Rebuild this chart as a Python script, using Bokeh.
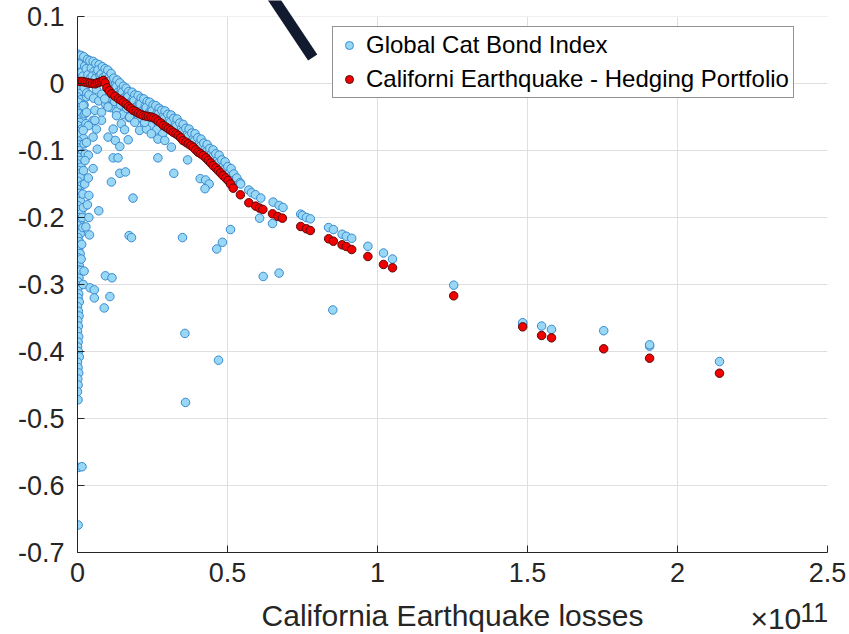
from bokeh.plotting import figure
from bokeh.layouts import column
from bokeh.models import Range1d, FixedTicker, Arrow, Legend, LegendItem, BoxAnnotation
from bokeh.core.properties import value
from bokeh.embed import file_html
from bokeh.resources import INLINE

FONT = "Liberation Sans"

# ---------------- data (x in units of 1e11) ----------------
x_ticks = [0, 0.5, 1, 1.5, 2, 2.5]
x_tick_labels = ["0", "0.5", "1", "1.5", "2", "2.5"]
y_ticks = [0.1, 0, -0.1, -0.2, -0.3, -0.4, -0.5, -0.6, -0.7]
y_tick_labels = ["0.1", "0", "-0.1", "-0.2", "-0.3", "-0.4", "-0.5", "-0.6", "-0.7"]

x_label = "California Earthquake losses"
x_multiplier = "\u00d710"
x_exponent = "11"
series_cat = "Global Cat Bond Index"
series_hedge = "Californi Earthquake - Hedging Portfolio"

# Global Cat Bond Index: near-zero-loss column
cat_column = [
    (0.000, 0.044), (0.005, 0.038), (0.000, 0.032), (0.012, 0.030), (0.003, 0.025), (0.015, 0.020),
    (0.000, 0.018), (0.008, 0.012), (0.000, 0.008), (0.018, 0.005), (0.004, 0.000), (0.012, -0.004),
    (0.000, -0.008), (0.020, -0.012), (0.006, -0.015), (0.000, -0.020), (0.012, -0.024), (0.003, -0.028),
    (0.022, -0.032), (0.000, -0.036), (0.010, -0.040), (0.004, -0.045), (0.016, -0.050), (0.000, -0.054),
    (0.008, -0.058), (0.002, -0.063), (0.014, -0.068), (0.000, -0.072), (0.006, -0.077), (0.020, -0.082),
    (0.002, -0.086), (0.010, -0.091), (0.000, -0.096), (0.006, -0.100), (0.015, -0.105), (0.002, -0.110),
    (0.008, -0.115), (0.000, -0.120), (0.012, -0.125), (0.004, -0.130), (0.000, -0.135), (0.009, -0.140),
    (0.002, -0.146), (0.014, -0.152), (0.000, -0.158), (0.006, -0.164), (0.003, -0.170), (0.010, -0.176),
    (0.000, -0.182), (0.005, -0.188), (0.012, -0.194), (0.002, -0.200), (0.008, -0.206), (0.000, -0.212),
    (0.004, -0.218), (0.010, -0.224), (0.002, -0.230), (0.006, -0.236), (0.000, -0.242), (0.004, -0.248),
    (0.009, -0.254), (0.002, -0.260), (0.000, -0.266), (0.006, -0.272), (0.003, -0.278), (0.000, -0.284),
    (0.005, -0.290), (0.002, -0.296), (0.007, -0.302), (0.000, -0.308), (0.004, -0.314), (0.002, -0.320),
    (0.006, -0.326), (0.000, -0.333), (0.003, -0.340), (0.005, -0.347), (0.001, -0.354), (0.003, -0.362),
    (0.000, -0.370), (0.004, -0.378), (0.002, -0.386), (0.000, -0.393), (0.003, -0.400), (0.006, -0.408),
    (0.000, -0.416), (0.002, -0.424), (0.004, -0.432), (0.001, -0.441), (0.002, -0.450), (0.000, -0.460),
    (0.002, -0.472), (0.003, -0.573), (0.015, -0.572), (0.002, -0.659),
    (0.028, 0.030), (0.030, 0.015), (0.026, -0.005), (0.030, -0.020), (0.025, -0.045), (0.028, -0.060),
    (0.022, -0.090), (0.026, -0.105), (0.020, -0.130), (0.024, -0.150), (0.018, -0.165), (0.020, -0.185),
    (0.016, -0.200), (0.018, -0.215), (0.014, -0.240), (0.012, -0.262),
]

# Global Cat Bond Index: dense band along the hedging curve
cat_band = [
    (0.012, 0.042), (0.006, 0.029), (0.014, 0.017), (0.009, 0.006),
    (0.021, 0.040), (0.024, 0.026), (0.018, 0.011), (0.022, -0.006),
    (0.033, 0.036), (0.029, 0.022), (0.035, 0.013), (0.031, -0.014),
    (0.041, 0.034), (0.046, 0.023), (0.043, 0.008), (0.038, -0.017),
    (0.052, 0.033), (0.055, 0.018), (0.049, 0.011), (0.054, -0.022),
    (0.061, 0.030), (0.065, 0.016), (0.059, 0.007), (0.063, -0.009),
    (0.072, 0.028), (0.068, 0.020), (0.075, 0.012), (0.071, -0.026),
    (0.083, 0.025), (0.079, 0.014), (0.086, 0.009), (0.081, -0.016),
    (0.092, 0.022), (0.095, 0.012), (0.089, 0.005), (0.094, -0.031),
    (0.101, 0.020), (0.106, 0.009), (0.099, 0.002), (0.104, -0.021),
    (0.112, 0.015), (0.109, 0.004), (0.116, -0.005), (0.111, -0.036),
    (0.121, 0.008), (0.126, -0.002), (0.119, -0.009), (0.124, -0.027),
    (0.132, 0.005), (0.129, -0.005), (0.135, -0.013), (0.131, -0.042),
    (0.141, 0.001), (0.146, -0.009), (0.139, -0.017), (0.144, -0.032),
    (0.153, -0.004), (0.149, -0.013), (0.156, -0.021), (0.151, -0.046),
    (0.162, -0.007), (0.166, -0.017), (0.159, -0.025), (0.164, -0.037),
    (0.171, -0.012), (0.168, -0.020), (0.175, -0.029), (0.172, -0.051),
    (0.182, -0.013), (0.186, -0.023), (0.179, -0.032), (0.184, -0.045),
    (0.191, -0.017), (0.188, -0.026), (0.195, -0.035), (0.193, -0.056),
    (0.202, -0.018), (0.206, -0.029), (0.199, -0.038), (0.204, -0.051),
    (0.212, -0.022), (0.209, -0.031), (0.216, -0.041),
    (0.221, -0.023), (0.226, -0.034), (0.219, -0.043), (0.224, -0.061),
    (0.232, -0.027), (0.229, -0.036), (0.235, -0.045),
    (0.241, -0.028), (0.246, -0.039), (0.239, -0.047), (0.243, -0.063),
    (0.252, -0.032), (0.249, -0.041), (0.255, -0.050),
    (0.261, -0.033), (0.266, -0.044), (0.259, -0.053), (0.264, -0.069),
    (0.272, -0.037), (0.269, -0.046), (0.275, -0.056),
    (0.281, -0.040), (0.286, -0.049), (0.279, -0.059), (0.284, -0.075),
    (0.292, -0.041), (0.289, -0.052), (0.295, -0.062),
    (0.301, -0.046), (0.306, -0.055), (0.299, -0.065),
    (0.312, -0.047), (0.309, -0.058), (0.315, -0.068),
    (0.321, -0.052), (0.326, -0.061), (0.319, -0.071),
    (0.332, -0.053), (0.329, -0.064), (0.335, -0.075),
    (0.341, -0.059), (0.346, -0.068), (0.339, -0.078),
    (0.352, -0.061), (0.349, -0.072), (0.355, -0.082),
    (0.361, -0.067), (0.366, -0.076), (0.359, -0.086),
    (0.372, -0.068), (0.369, -0.079), (0.375, -0.089),
    (0.381, -0.074), (0.386, -0.083), (0.379, -0.092),
    (0.392, -0.075), (0.389, -0.086), (0.395, -0.096),
    (0.401, -0.081), (0.406, -0.090), (0.399, -0.100),
    (0.412, -0.083), (0.409, -0.094), (0.415, -0.104),
    (0.421, -0.089), (0.426, -0.098), (0.419, -0.107),
    (0.432, -0.091), (0.429, -0.102), (0.435, -0.111),
    (0.441, -0.097), (0.446, -0.106), (0.439, -0.115),
    (0.452, -0.099), (0.449, -0.110), (0.455, -0.120),
    (0.461, -0.105), (0.466, -0.115), (0.459, -0.124),
    (0.472, -0.107), (0.469, -0.119), (0.475, -0.129),
    (0.481, -0.114), (0.486, -0.124), (0.479, -0.133),
    (0.492, -0.117), (0.489, -0.129), (0.495, -0.138),
    (0.501, -0.124), (0.506, -0.134), (0.499, -0.143),
    (0.512, -0.127), (0.509, -0.139), (0.521, -0.135), (0.518, -0.145),
    (0.531, -0.141), (0.542, -0.148),
]

# Global Cat Bond Index: large-loss tail
cat_tail = [
    (0.544, -0.150), (0.571, -0.159), (0.580, -0.163), (0.593, -0.166), (0.611, -0.171),
    (0.652, -0.177), (0.672, -0.182), (0.685, -0.185), (0.744, -0.195), (0.750, -0.197),
    (0.763, -0.200), (0.776, -0.202), (0.837, -0.215), (0.853, -0.218), (0.882, -0.225),
    (0.896, -0.228), (0.914, -0.231), (0.968, -0.243), (1.020, -0.253), (1.050, -0.262),
    (1.254, -0.301), (1.484, -0.359), (1.484, -0.357), (1.547, -0.362), (1.580, -0.367),
    (1.754, -0.369), (1.907, -0.392), (1.907, -0.390), (2.140, -0.415),
]

# Global Cat Bond Index: scattered points below the band
cat_scatter = [
    (0.019, -0.033), (0.030, -0.043), (0.058, -0.040), (0.080, -0.043), (0.102, -0.035),
    (0.091, -0.023), (0.052, -0.055), (0.080, -0.055), (0.036, -0.063), (0.063, -0.068),
    (0.019, -0.070), (0.052, -0.080), (0.030, -0.088), (0.036, -0.107), (0.025, -0.115),
    (0.146, -0.060), (0.130, -0.048), (0.174, -0.050), (0.191, -0.058), (0.207, -0.070),
    (0.230, -0.068), (0.246, -0.075), (0.268, -0.083), (0.291, -0.085), (0.313, -0.095),
    (0.224, -0.058), (0.058, -0.055), (0.157, -0.069), (0.119, -0.068), (0.102, -0.080),
    (0.126, -0.085), (0.141, -0.094), (0.169, -0.084), (0.066, -0.098), (0.119, -0.111),
    (0.135, -0.111), (0.268, -0.111), (0.141, -0.134), (0.160, -0.132), (0.113, -0.147),
    (0.321, -0.134), (0.036, -0.141), (0.052, -0.127), (0.367, -0.114), (0.409, -0.142),
    (0.427, -0.144), (0.439, -0.150), (0.425, -0.157), (0.185, -0.171), (0.071, -0.190),
    (0.038, -0.167), (0.033, -0.181), (0.038, -0.200), (0.028, -0.214), (0.040, -0.226),
    (0.172, -0.227), (0.180, -0.230), (0.350, -0.230), (0.464, -0.247), (0.483, -0.237),
    (0.510, -0.218), (0.607, -0.201), (0.650, -0.209), (0.619, -0.288), (0.672, -0.283),
    (0.013, -0.279), (0.022, -0.280), (0.093, -0.287), (0.115, -0.290), (0.019, -0.300),
    (0.042, -0.305), (0.056, -0.308), (0.056, -0.320), (0.108, -0.318), (0.089, -0.335),
    (0.851, -0.338), (0.358, -0.373), (0.470, -0.413), (0.360, -0.476),
]

# California Earthquake hedging portfolio
hedge = [
    (0.000, 0.003), (0.009, 0.003), (0.017, 0.003), (0.026, 0.002), (0.034, 0.001), (0.042, 0.0005),
    (0.050, 0.000), (0.059, -0.0005), (0.066, 0.001), (0.073, 0.002), (0.080, 0.003), (0.086, 0.0045),
    (0.092, 0.001), (0.098, -0.0065), (0.106, -0.011), (0.114, -0.0154), (0.125, -0.019), (0.136, -0.0229),
    (0.145, -0.025), (0.153, -0.0279), (0.162, -0.031), (0.170, -0.0343), (0.178, -0.037), (0.186, -0.0403),
    (0.195, -0.042), (0.203, -0.0443), (0.211, -0.046), (0.219, -0.0478), (0.228, -0.0486), (0.236, -0.0493),
    (0.245, -0.050), (0.253, -0.0512), (0.261, -0.053), (0.269, -0.0562), (0.278, -0.059), (0.286, -0.0627),
    (0.295, -0.065), (0.303, -0.0676), (0.311, -0.070), (0.319, -0.0727), (0.328, -0.075), (0.336, -0.0776),
    (0.344, -0.081), (0.352, -0.0851), (0.361, -0.0875), (0.369, -0.0900), (0.378, -0.0925), (0.386, -0.0951),
    (0.394, -0.099), (0.402, -0.1025), (0.411, -0.105), (0.419, -0.1075), (0.428, -0.111), (0.436, -0.1149),
    (0.444, -0.1185), (0.452, -0.1224), (0.461, -0.126), (0.469, -0.1299), (0.477, -0.1335), (0.485, -0.1373),
    (0.494, -0.141), (0.502, -0.1448), (0.510, -0.150), (0.519, -0.1562), (0.543, -0.1661), (0.571, -0.178),
    (0.594, -0.183), (0.607, -0.186), (0.618, -0.188), (0.650, -0.1945), (0.668, -0.1985), (0.683, -0.201),
    (0.744, -0.2134), (0.763, -0.2169), (0.776, -0.2194), (0.837, -0.2318), (0.853, -0.2354), (0.882, -0.2408),
    (0.896, -0.2433), (0.914, -0.2478), (0.968, -0.2582), (1.020, -0.2701), (1.050, -0.2751), (1.254, -0.3169),
    (1.484, -0.3632), (1.547, -0.3761), (1.580, -0.3796), (1.754, -0.3960), (1.907, -0.4100), (2.140, -0.4324),
]

cat_points = cat_column + cat_band + cat_scatter + cat_tail
cat_x = [pt[0] for pt in cat_points]
cat_y = [pt[1] for pt in cat_points]
hedge_x = [pt[0] for pt in hedge]
hedge_y = [pt[1] for pt in hedge]

# ---------------- main figure ----------------
AX = "#262626"
Y_TOP = 0.1 + 16 / 670.0   # frame runs to the canvas top so the pointer arrow is not cut
x_range = Range1d(0, 2.5)
p = figure(width=849, height=598, output_backend="svg", toolbar_location=None, title=None,
           x_range=x_range, y_range=Range1d(-0.7, Y_TOP),
           min_border_left=77, min_border_right=22, min_border_top=0, min_border_bottom=46)
p.outline_line_color = None
p.background_fill_color = "white"
p.border_fill_color = "white"

for ax in (p.xaxis[0], p.yaxis[0]):
    ax.axis_line_color = AX
    ax.axis_line_width = 1
    ax.major_tick_line_color = AX
    ax.major_tick_in = 7
    ax.major_tick_out = 0
    ax.minor_tick_line_color = None
    ax.major_label_text_font = FONT
    ax.major_label_text_font_size = "27px"
    ax.major_label_text_color = AX

p.yaxis[0].bounds = (-0.7, 0.1)
p.xaxis[0].ticker = FixedTicker(ticks=x_ticks)
p.yaxis[0].ticker = FixedTicker(ticks=y_ticks)
p.xaxis[0].major_label_overrides = dict(zip(x_ticks, x_tick_labels))
p.yaxis[0].major_label_overrides = dict(zip(y_ticks, y_tick_labels))
p.xaxis[0].major_label_standoff = 10
p.yaxis[0].major_label_standoff = 13

for g in (p.xgrid[0], p.ygrid[0]):
    g.grid_line_color = "#dfdfdf"
    g.grid_line_width = 1

# hide grid above the 0.1 limit (the axes box ends there)
p.add_layout(BoxAnnotation(bottom=0.1, fill_color="white", fill_alpha=1, line_color=None,
                           level="underlay"))

r_cat = p.scatter(cat_x, cat_y, marker="circle", size=8.5, fill_color="#98d8f5",
                  line_color="#3a8ad0", line_width=1)
r_hedge = p.scatter(hedge_x, hedge_y, marker="circle", size=8.5, fill_color="#f00000",
                    line_color="#5a0a0a", line_width=1)

legend = Legend(items=[LegendItem(label=series_cat, renderers=[r_cat]),
                       LegendItem(label=series_hedge, renderers=[r_hedge])],
                location=(255, 454))
legend.label_text_font = FONT
legend.label_text_font_size = "24px"
legend.label_text_color = "black"
legend.label_height = 28
legend.glyph_width = 24
legend.glyph_height = 20
legend.label_standoff = 5
legend.padding = 4
legend.spacing = 6
legend.margin = 0
legend.border_line_color = AX
legend.border_line_width = 1
legend.background_fill_color = "white"
legend.background_fill_alpha = 1
p.add_layout(legend)

p.add_layout(Arrow(x_start=0.784, y_start=0.0388, x_end=0.59, y_end=0.169, end=None,
                   line_width=11, line_color="#121a2f"))

# ---------------- strip below the axis: x-axis title and exponent ----------------
q = figure(width=849, height=36, output_backend="svg", toolbar_location=None, title=None,
           x_range=x_range, y_range=Range1d(634, 598),
           x_axis_location=None, y_axis_location=None,
           min_border=0, min_border_left=77, min_border_right=22, min_border_top=0, min_border_bottom=0)
q.outline_line_color = None
q.grid.visible = False
q.background_fill_color = "white"
q.border_fill_color = "white"

q.text(x=[1.25], y=[615], text=[x_label], text_align="center", text_baseline="alphabetic",
       text_font=value(FONT), text_font_size="30px", text_color=AX)
q.text(x=[2.243], y=[618], text=[x_multiplier], text_align="left", text_baseline="alphabetic",
       text_font=value(FONT), text_font_size="30px", text_color=AX)
q.text(x=[2.409], y=[612], text=[x_exponent], text_align="left", text_baseline="alphabetic",
       text_font=value(FONT), text_font_size="27px", text_color=AX)

layout = column(p, q, spacing=0)
open("out.html", "w").write(file_html(layout, INLINE))
